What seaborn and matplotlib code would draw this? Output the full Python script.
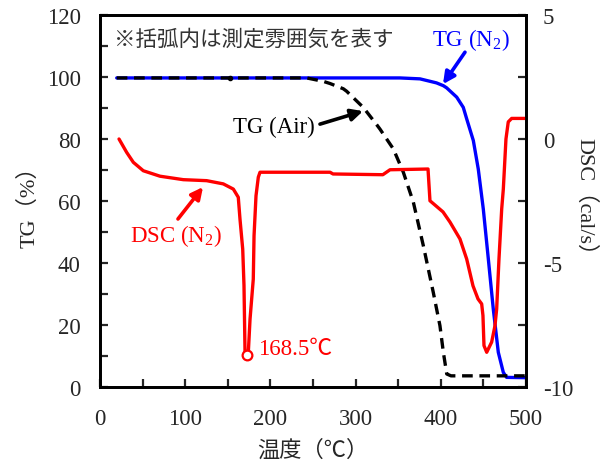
import matplotlib
matplotlib.use("Agg")
import matplotlib.pyplot as plt
from matplotlib.ticker import MultipleLocator
import numpy as np
import pandas as pd
import seaborn as sns

# ---- data ----
temp_n2 = [19.6, 150, 300, 352, 375.6, 395, 403, 406.9, 418.7, 426.4, 430.4, 438.2,
           444, 449.9, 455.8, 461.6, 467.5, 473.4, 477.3, 500]
tg_n2 = [99.7, 99.7, 99.7, 99.7, 99.4, 98.1, 97.2, 96.5, 93.5, 90.2, 86.5, 79.5,
         70.3, 57.4, 41.3, 25.2, 11.2, 4.7, 3.1, 3.0]

temp_air = [19.6, 152.6, 207, 242.6, 262, 270, 285.6, 289.5, 309, 324.8, 328.6, 344.3, 356,
            367.8, 379.5, 391.2, 399, 403, 407, 412, 500]
tg_air = [99.7, 99.7, 99.7, 99.7, 98.6, 97.9, 96.2, 95.4, 90.2, 84.6, 83.2, 76.8, 69.3,
          59.6, 45.6, 30.5, 19.8, 11.2, 4.2, 3.6, 3.6]

temp_dsc = [22.3, 31.3, 39.1, 50.8, 70.4, 97.8, 125.2, 144.7, 156.5, 162.3, 164.3, 167.5,
            169, 170.2, 172.9, 174.1, 176.1, 179.9, 180.8, 183.1, 185.8, 187.8, 270, 273.5,
            332, 340.4, 385, 387.3, 402.6, 410.8, 422.5, 430.4, 437.8, 443.7, 448, 449.5,
            450.7, 453.9, 459.7, 463.6, 465.6, 468.3, 471.5, 473.4, 476.5, 479.2, 483.2, 500]
dsc = [0.0, -0.54, -0.94, -1.28, -1.50, -1.64, -1.68, -1.81, -2.02, -2.35, -3.23, -4.44,
       -5.9, -8.59, -8.70, -8.59, -7.26, -5.65, -3.9, -2.29, -1.54, -1.34, -1.34, -1.41,
       -1.44, -1.24, -1.21, -2.49, -2.94, -3.35, -4.03, -4.84, -5.92, -6.45, -6.65, -7.12,
       -8.33, -8.6, -8.19, -7.53, -6.85, -4.84, -2.82, -2.02, 0.0, 0.69, 0.83, 0.83]

peak_label = "168.5℃"

df_n2 = pd.DataFrame({"T": temp_n2, "TG": tg_n2})
df_air = pd.DataFrame({"T": temp_air, "TG": tg_air})
df_dsc = pd.DataFrame({"T": temp_dsc, "DSC": dsc})

sns.set_style("ticks")
fams = ["Liberation Serif", "Noto Sans CJK JP", "DejaVu Sans"]
plt.rcParams["font.family"] = fams
plt.rcParams["axes.unicode_minus"] = False
plt.rcParams["mathtext.fontset"] = "stix"
fs = 16.5

fig = plt.figure(figsize=(6.08, 4.64), dpi=100)
ax = fig.add_axes([0.1645, 0.1638, 0.7006, 0.8017])
ax2 = ax.twinx()

sns.lineplot(data=df_n2, x="T", y="TG", ax=ax, color="#0000ff", lw=2.4,
             estimator=None, sort=False)
sns.lineplot(data=df_air, x="T", y="TG", ax=ax, color="black", lw=2.4,
             estimator=None, sort=False)
ax.lines[-1].set_dashes((3.2, 2))
sns.lineplot(data=df_dsc, x="T", y="DSC", ax=ax2, color="#ff0000", lw=2.4,
             estimator=None, sort=False)

# small dot on TG line and open circle at first DSC minimum
ax.plot([temp_air[1]], [tg_air[1]], "o", color="black", ms=3)
first = df_dsc[df_dsc["T"] < 250]
imin = first["DSC"].idxmin()
ax2.plot([df_dsc.loc[imin, "T"]], [df_dsc.loc[imin, "DSC"]], "o", ms=7,
         mfc="white", mec="#ff0000", mew=1.6, zorder=5)

ax.set_xlim(0, 500)
ax.set_ylim(0, 120)
ax2.set_ylim(-10, 5)
ax.xaxis.set_major_locator(MultipleLocator(100))
ax.xaxis.set_minor_locator(MultipleLocator(50))
ax.yaxis.set_major_locator(MultipleLocator(20))
ax.yaxis.set_minor_locator(MultipleLocator(10))
ax2.yaxis.set_major_locator(MultipleLocator(5))
ax2.yaxis.set_minor_locator(MultipleLocator(2.5))

for a in (ax, ax2):
    a.tick_params(which="both", direction="in", length=6, width=1.6, labelsize=fs)
    for s in a.spines.values():
        s.set_linewidth(2)
        s.set_color("black")
ax.tick_params(axis="x", pad=15)
ax.tick_params(axis="y", pad=14)
ax2.tick_params(axis="y", pad=12)

ax.set_xlabel("温度（℃）", fontsize=fs - 0.5, labelpad=8)
ax.set_ylabel("TG（%）", fontsize=fs - 0.5, labelpad=5)
ax2.set_ylabel("DSC（cal/s）", fontsize=fs - 0.5, rotation=270, labelpad=16)

# annotations
ax.text(17, 112.3, "※括弧内は測定雰囲気を表す", fontsize=fs - 1, ha="left", va="center",
        color="#333333")
ap = dict(arrowstyle="-|>,head_length=0.7,head_width=0.35", lw=2.6, shrinkA=0, shrinkB=0)
ax.text(436, 112.3, r"TG (N$_\mathregular{2}$)", fontsize=fs, color="#0000ff",
        ha="center", va="center")
ax.annotate("", xy=(402.6, 97.7), xytext=(428.4, 108),
            arrowprops=dict(ap, color="#0000ff"))
ax.text(204, 84.2, "TG (Air)", fontsize=fs, color="black", ha="center", va="center")
ax.annotate("", xy=(308.7, 89), xytext=(258.2, 84.8),
            arrowprops=dict(ap, color="black"))
ax.text(89, 49, r"DSC (N$_\mathregular{2}$)", fontsize=fs, color="#ff0000",
        ha="center", va="center")
ax.annotate("", xy=(120.9, 64.5), xytext=(91.5, 54.2),
            arrowprops=dict(ap, color="#ff0000"))
ax.text(185.4, 12.3, peak_label, fontsize=fs, color="#ff0000", ha="left", va="center")

fig.savefig("out.png", dpi=100)
